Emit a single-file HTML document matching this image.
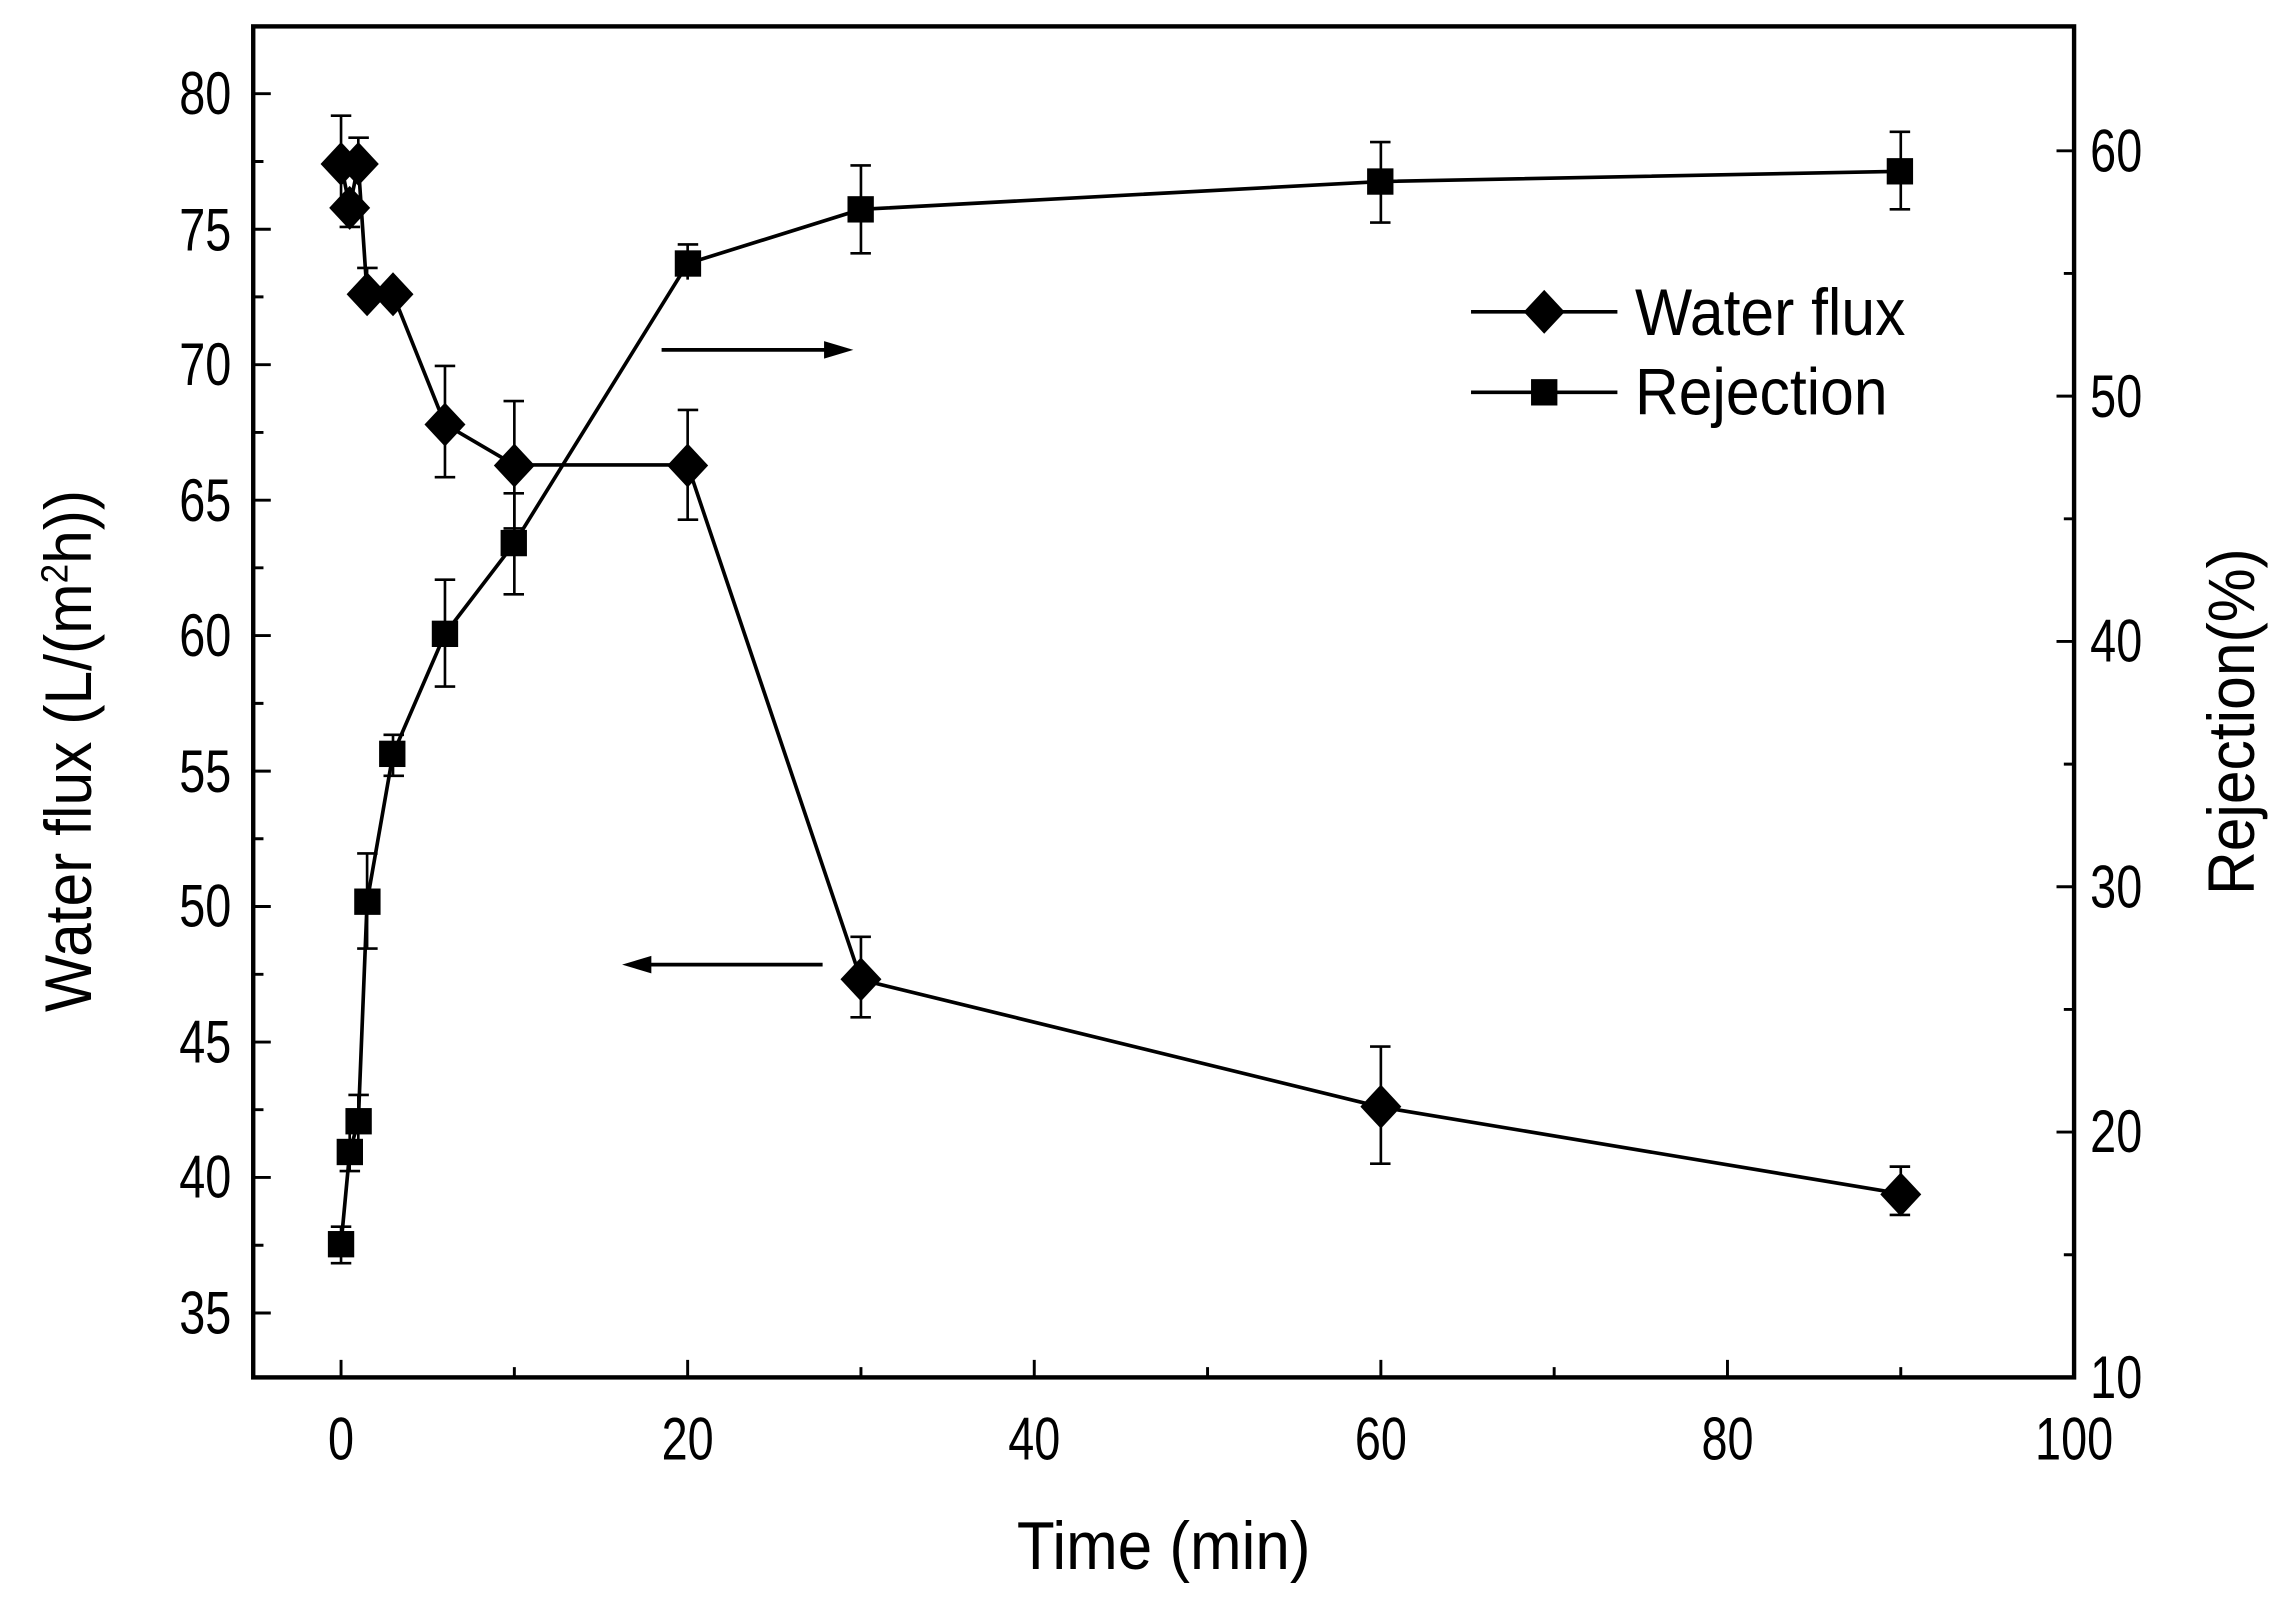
<!DOCTYPE html>
<html><head><meta charset="utf-8"><style>
html,body{margin:0;padding:0;background:#fff}
svg{display:block}
text{font-family:"Liberation Sans",Arial,sans-serif;fill:#000}
</style></head><body>
<svg width="2279" height="1597" viewBox="0 0 1557 1091" xmlns="http://www.w3.org/2000/svg">
<rect x="0" y="0" width="1557" height="1091" fill="#fff"/>
<rect x="173" y="18" width="1244" height="923" fill="none" stroke="#000" stroke-width="3"/>
<g stroke="#000" stroke-width="2">
<path d="M233 941v-12M351.4 941v-7M469.8 941v-12M588.2 941v-7M706.6 941v-12M825 941v-7M943.4 941v-12M1061.8 941v-7M1180.2 941v-12M1298.6 941v-7"/>
<path d="M173 64h12M173 156.6h12M173 249.1h12M173 341.7h12M173 434.2h12M173 526.8h12M173 619.3h12M173 711.9h12M173 804.4h12M173 897h12"/>
<path d="M173 110.3h7M173 202.8h7M173 295.4h7M173 387.9h7M173 480.5h7M173 573h7M173 665.6h7M173 758.1h7M173 850.7h7"/>
<path d="M1417 103h-12M1417 270.6h-12M1417 438.2h-12M1417 605.8h-12M1417 773.4h-12"/>
<path d="M1417 186.8h-7M1417 354.4h-7M1417 522h-7M1417 689.6h-7M1417 857.2h-7"/>
</g>
<g font-size="41">
<g text-anchor="end">
<text transform="translate(158,78) scale(0.78,1)">80</text>
<text transform="translate(158,171) scale(0.78,1)">75</text>
<text transform="translate(158,263) scale(0.78,1)">70</text>
<text transform="translate(158,356) scale(0.78,1)">65</text>
<text transform="translate(158,448) scale(0.78,1)">60</text>
<text transform="translate(158,541) scale(0.78,1)">55</text>
<text transform="translate(158,633) scale(0.78,1)">50</text>
<text transform="translate(158,726) scale(0.78,1)">45</text>
<text transform="translate(158,818) scale(0.78,1)">40</text>
<text transform="translate(158,911) scale(0.78,1)">35</text>
</g>
<text transform="translate(1428,117) scale(0.78,1)">60</text>
<text transform="translate(1428,285) scale(0.78,1)">50</text>
<text transform="translate(1428,452) scale(0.78,1)">40</text>
<text transform="translate(1428,620) scale(0.78,1)">30</text>
<text transform="translate(1428,787) scale(0.78,1)">20</text>
<text transform="translate(1428,955) scale(0.78,1)">10</text>
<g text-anchor="middle">
<text transform="translate(233,997) scale(0.78,1)">0</text>
<text transform="translate(469.8,997) scale(0.78,1)">20</text>
<text transform="translate(706.6,997) scale(0.78,1)">40</text>
<text transform="translate(943.4,997) scale(0.78,1)">60</text>
<text transform="translate(1180.2,997) scale(0.78,1)">80</text>
<text transform="translate(1417,997) scale(0.78,1)">100</text>
</g>
</g>
<text transform="translate(795,1072) scale(0.92,1)" font-size="46" text-anchor="middle">Time (min)</text>
<text transform="translate(62,513) rotate(-90) scale(0.92,1)" font-size="45" text-anchor="middle">Water flux (L/(m<tspan font-size="26" dy="-16">2</tspan><tspan dy="16">h))</tspan></text>
<text transform="translate(1540,493) rotate(-90) scale(0.92,1)" font-size="45" text-anchor="middle">Rejection(%)</text>
<g stroke="#000" stroke-width="1.8" fill="none">
<path d="M233 79V145M226 79h14M238.9 131V155M232 155h14M244.8 94V112M238 94h14M250.8 183V201M244 183h14M304 250V326M297 250h14M297 326h14M351.4 274V361M344 274h14M344 361h14M469.8 280V355M463 280h14M463 355h14M588.2 640V695M581 640h14M581 695h14M943.4 715V795M936 715h14M936 795h14M1298.6 797V830M1291 797h14M1291 830h14"/>
<path d="M233 838V863M226 838h14M226 863h14M238.9 771V800M232 800h14M244.8 748V782M238 748h14M250.8 583V648M244 583h14M244 648h14M268.5 502V530M262 502h14M262 530h14M304 396V469M297 396h14M297 469h14M351.4 337V406M344 337h14M344 406h14M469.8 167V191M463 167h14M588.2 113V173M581 113h14M581 173h14M943.4 97V152M936 97h14M936 152h14M1298.6 90V143M1291 90h14M1291 143h14"/>
</g>
<polyline fill="none" stroke="#000" stroke-width="2.5" points="233,112.1 238.9,141.7 244.8,112.1 250.8,201 268.5,201 304,289.8 351.4,317.6 469.8,317.6 588.2,669.3 943.4,756.3 1298.6,815.5"/>
<polyline fill="none" stroke="#000" stroke-width="2.5" points="233,850 238.9,787 244.8,766 250.8,616 268.5,515 304,433 351.4,371 469.8,180 588.2,143 943.4,124 1298.6,117"/>
<g fill="#000">
<path d="M233 97l14 15-14 15-14-15z"/><path d="M238.9 127l14 15-14 15-14-15z"/><path d="M244.8 97l14 15-14 15-14-15z"/><path d="M250.8 186l14 15-14 15-14-15z"/><path d="M268.5 186l14 15-14 15-14-15z"/><path d="M304 275l14 15-14 15-14-15z"/><path d="M351.4 303l14 15-14 15-14-15z"/><path d="M469.8 303l14 15-14 15-14-15z"/><path d="M588.2 654l14 15-14 15-14-15z"/><path d="M943.4 741l14 15-14 15-14-15z"/><path d="M1298.6 801l14 15-14 15-14-15z"/>
<rect x="224" y="841" width="18" height="18"/><rect x="230" y="778" width="18" height="18"/><rect x="236" y="757" width="18" height="18"/><rect x="242" y="607" width="18" height="18"/><rect x="259" y="506" width="18" height="18"/><rect x="295" y="424" width="18" height="18"/><rect x="342" y="362" width="18" height="18"/><rect x="461" y="171" width="18" height="18"/><rect x="579" y="134" width="18" height="18"/><rect x="934" y="115" width="18" height="18"/><rect x="1289" y="108" width="18" height="18"/>
</g>
<g stroke="#000" stroke-width="2.5"><path d="M452 239H568M562 659H440"/></g>
<path d="M583 239l-20-6v12z"/><path d="M425 659l20-6v12z"/>
<g stroke="#000" stroke-width="2.5"><path d="M1005 213H1105M1005 268H1105"/></g>
<path d="M1055 198l14 15-14 15-14-15z"/><rect x="1046" y="259" width="18" height="18"/>
<text transform="translate(1117,229) scale(0.92,1)" font-size="45">Water flux</text>
<text transform="translate(1117,283) scale(0.92,1)" font-size="45">Rejection</text>
</svg>
</body></html>
